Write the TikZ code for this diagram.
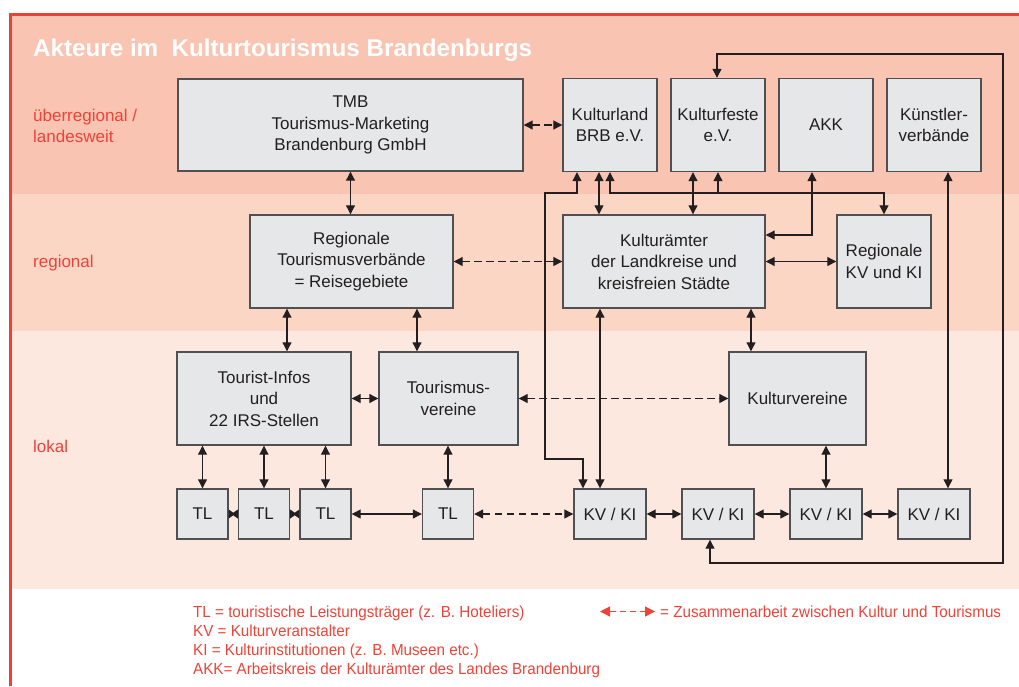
\documentclass[tikz,border=0pt]{standalone}
\usepackage{fontspec}
\setmainfont{Liberation Sans}
\newfontfamily\legendfont[FakeStretch=0.95]{Liberation Sans}
\usetikzlibrary{arrows.meta,calc}
\definecolor{bandA}{HTML}{F9C4B1}
\definecolor{bandB}{HTML}{FCD6C5}
\definecolor{bandC}{HTML}{FDE8E0}
\definecolor{redline}{HTML}{EE4136}
\definecolor{redtext}{HTML}{EE4338}
\definecolor{boxfill}{HTML}{E6E7E8}
\definecolor{boxline}{HTML}{505052}
\definecolor{ink}{HTML}{231F20}
\begin{document}
\begin{tikzpicture}[x=1pt,y=-1pt,
  box/.style={draw=boxline, line width=1.4pt, fill=boxfill, inner sep=0pt, align=center,
    text=ink, font=\fontsize{17}{21.5}\selectfont},
  conn/.style={draw=ink, line width=1.1pt},
  dbl/.style={conn, {Triangle[length=9pt,width=9pt]}-{Triangle[length=9pt,width=9pt]}},
  sgl/.style={conn, -{Triangle[length=9pt,width=9pt]}},
  dsh/.style={dbl, dash pattern=on 7.5pt off 4.5pt},
  bowtie/.style={fill=ink},
  level/.style={anchor=base west, inner sep=0pt, text=redtext, font=\fontsize{17}{21}\selectfont},
  legend/.style={anchor=base west, inner sep=0pt, text=redtext, font=\legendfont\fontsize{16}{19}\selectfont}
]
\useasboundingbox (0,0) rectangle (1019,686);
% background bands
\fill[bandA] (10,15) rectangle (1019,194);
\fill[bandB] (10,194) rectangle (1019,331);
\fill[bandC] (10,331) rectangle (1019,589);
\draw[redline, line width=3pt] (10,686) -- (10,14.7) -- (1019,14.7);

% title and level labels
\node[anchor=base west, inner sep=0pt, text=white, font=\fontsize{24.2}{28}\selectfont\bfseries] (title) at (33,56) {Akteure im\ \ Kulturtourismus Brandenburgs};
\node[level] (lv1) at (33,121) {überregional /};
\node[level] (lv1b) at (33,142) {landesweit};
\node[level] (lv2) at (33,267) {regional};
\node[level] (lv3) at (33,452) {lokal};

% top row
\node[box, minimum width=345pt, minimum height=92pt] (TMB) at (350.5,125) {TMB\\Tourismus-Marketing\\ Brandenburg GmbH};
\node[box, minimum width=94pt, minimum height=93pt] (KLand) at (610,125) {Kulturland\\BRB e.V.};
\node[box, minimum width=94pt, minimum height=93pt] (KFeste) at (718,125) {Kulturfeste\\e.V.};
\node[box, minimum width=94pt, minimum height=93pt] (AKK) at (826,125) {AKK};
\node[box, minimum width=94pt, minimum height=93pt] (Kuenstler) at (934,125) {Künstler-\\verbände};

% regional row
\node[box, minimum width=203pt, minimum height=93pt] (RTV) at (351.5,261.5) {Regionale\\Tourismusverbände\\= Reisegebiete};
\node[box, minimum width=202pt, minimum height=93pt] (KAemter) at (664,261.5) {Kulturämter\\der Landkreise und\\kreisfreien Städte};
\node[box, minimum width=94pt, minimum height=93pt] (RegKV) at (884,261.5) {Regionale\\KV und KI};

% local row
\node[box, minimum width=174pt, minimum height=93pt] (TInfo) at (264,398.5) {Tourist-Infos\\und\\22 IRS-Stellen};
\node[box, minimum width=139pt, minimum height=93pt] (TVer) at (448.5,398.5) {Tourismus-\\vereine};
\node[box, minimum width=137pt, minimum height=93pt] (KVer) at (797.5,398.5) {Kulturvereine};

% bottom row
\node[box, minimum width=51pt, minimum height=50pt] (TL1) at (202.5,514) {TL};
\node[box, minimum width=51pt, minimum height=50pt] (TL2) at (264,514) {TL};
\node[box, minimum width=51pt, minimum height=50pt] (TL3) at (325.5,514) {TL};
\node[box, minimum width=51pt, minimum height=50pt] (TL4) at (448,514) {TL};
\node[box, minimum width=72pt, minimum height=50pt] (KV1) at (610,514) {KV / KI};
\node[box, minimum width=72pt, minimum height=50pt] (KV2) at (718,514) {KV / KI};
\node[box, minimum width=72pt, minimum height=50pt] (KV3) at (826,514) {KV / KI};
\node[box, minimum width=72pt, minimum height=50pt] (KV4) at (934,514) {KV / KI};

% tourism side
\draw[dbl] (TMB.south) -- (TMB.south |- RTV.north);
\draw[dbl] (287,0 |- RTV.south) -- (287,0 |- TInfo.north);
\draw[dbl] (417,0 |- RTV.south) -- (417,0 |- TVer.north);
\draw[dbl] (TInfo.east) -- (TVer.west);
\draw[dbl] (TL1.north |- TInfo.south) -- (TL1.north);
\draw[dbl] (TL2.north |- TInfo.south) -- (TL2.north);
\draw[dbl] (TL3.north |- TInfo.south) -- (TL3.north);
\draw[dbl] (TL4.north |- TVer.south) -- (TL4.north);
% tight double arrows between neighbouring TL boxes (bow-tie)
\coordinate (m12) at ($(TL1.east)!0.5!(TL2.west)$);
\coordinate (m23) at ($(TL2.east)!0.5!(TL3.west)$);
\fill[bowtie] ([yshift=-4.5pt]TL1.east) -- ([yshift=-1.3pt]m12) -- ([yshift=-4.5pt]TL2.west)
  -- ([yshift=4.5pt]TL2.west) -- ([yshift=1.3pt]m12) -- ([yshift=4.5pt]TL1.east) -- cycle;
\fill[bowtie] ([yshift=-4.5pt]TL2.east) -- ([yshift=-1.3pt]m23) -- ([yshift=-4.5pt]TL3.west)
  -- ([yshift=4.5pt]TL3.west) -- ([yshift=1.3pt]m23) -- ([yshift=4.5pt]TL2.east) -- cycle;
\draw[dbl] (TL3.east) -- (TL4.west);

% cooperation (dashed)
\draw[dsh] (TMB.east) -- (KLand.west);
\draw[dsh] (RTV.east) -- (KAemter.west);
\draw[dsh] (TVer.east) -- (KVer.west);
\draw[dsh] (TL4.east) -- (KV1.west);

% culture side
\draw[dbl] (KAemter.east) -- (RegKV.west);
\draw[dbl] (599,0 |- KLand.south) -- (599,0 |- KAemter.north);
\draw[dbl] (693,0 |- KFeste.south) -- (693,0 |- KAemter.north);
\draw[dbl] (812,0 |- AKK.south) |- (KAemter.east |- 0,235);
\draw[dbl] (948,0 |- Kuenstler.south) -- (948,0 |- KV4.north);
\draw[dbl] (KLand.south) -- (KLand.south |- 0,193) -| (RegKV.north);
\draw[sgl] (KFeste.south |- 0,193) -- (KFeste.south);
\draw[dbl] (577,0 |- KLand.south) |- (545,193) -- (545,459) -| (583,0 |- KV1.north);
\draw[dbl] (600,0 |- KAemter.south) -- (600,0 |- KV1.north);
\draw[dbl] (751,0 |- KAemter.south) -- (751,0 |- KVer.north);
\draw[dbl] (KV3.north |- KVer.south) -- (KV3.north);
\draw[dbl] (KV1.east) -- (KV2.west);
\draw[dbl] (KV2.east) -- (KV3.west);
\draw[dbl] (KV3.east) -- (KV4.west);
\draw[dbl] (717,0 |- KFeste.north) |- (1003,54) |- (710,563) -- (710,0 |- KV2.south);

% legend
\node[legend] (lg1) at (193,617) {TL = touristische Leistungsträger (z. B. Hoteliers)};
\node[legend] (lg2) at (193,636) {KV = Kulturveranstalter};
\node[legend] (lg3) at (193,655) {KI = Kulturinstitutionen (z. B. Museen etc.)};
\node[legend] (lg4) at (193,674) {AKK= Arbeitskreis der Kulturämter des Landes Brandenburg};
\node[legend] (lg5) at (660,617) {= Zusammenarbeit zwischen Kultur und Tourismus};
\coordinate (la) at (600,611.5);
\coordinate (lb) at (655,611.5);
\draw[line width=1.3pt, draw=redtext, fill=redtext, dash pattern=on 6pt off 4pt,
  {Triangle[length=10pt,width=10pt]}-{Triangle[length=10pt,width=10pt]}] (la) -- (lb);
\end{tikzpicture}
\end{document}
